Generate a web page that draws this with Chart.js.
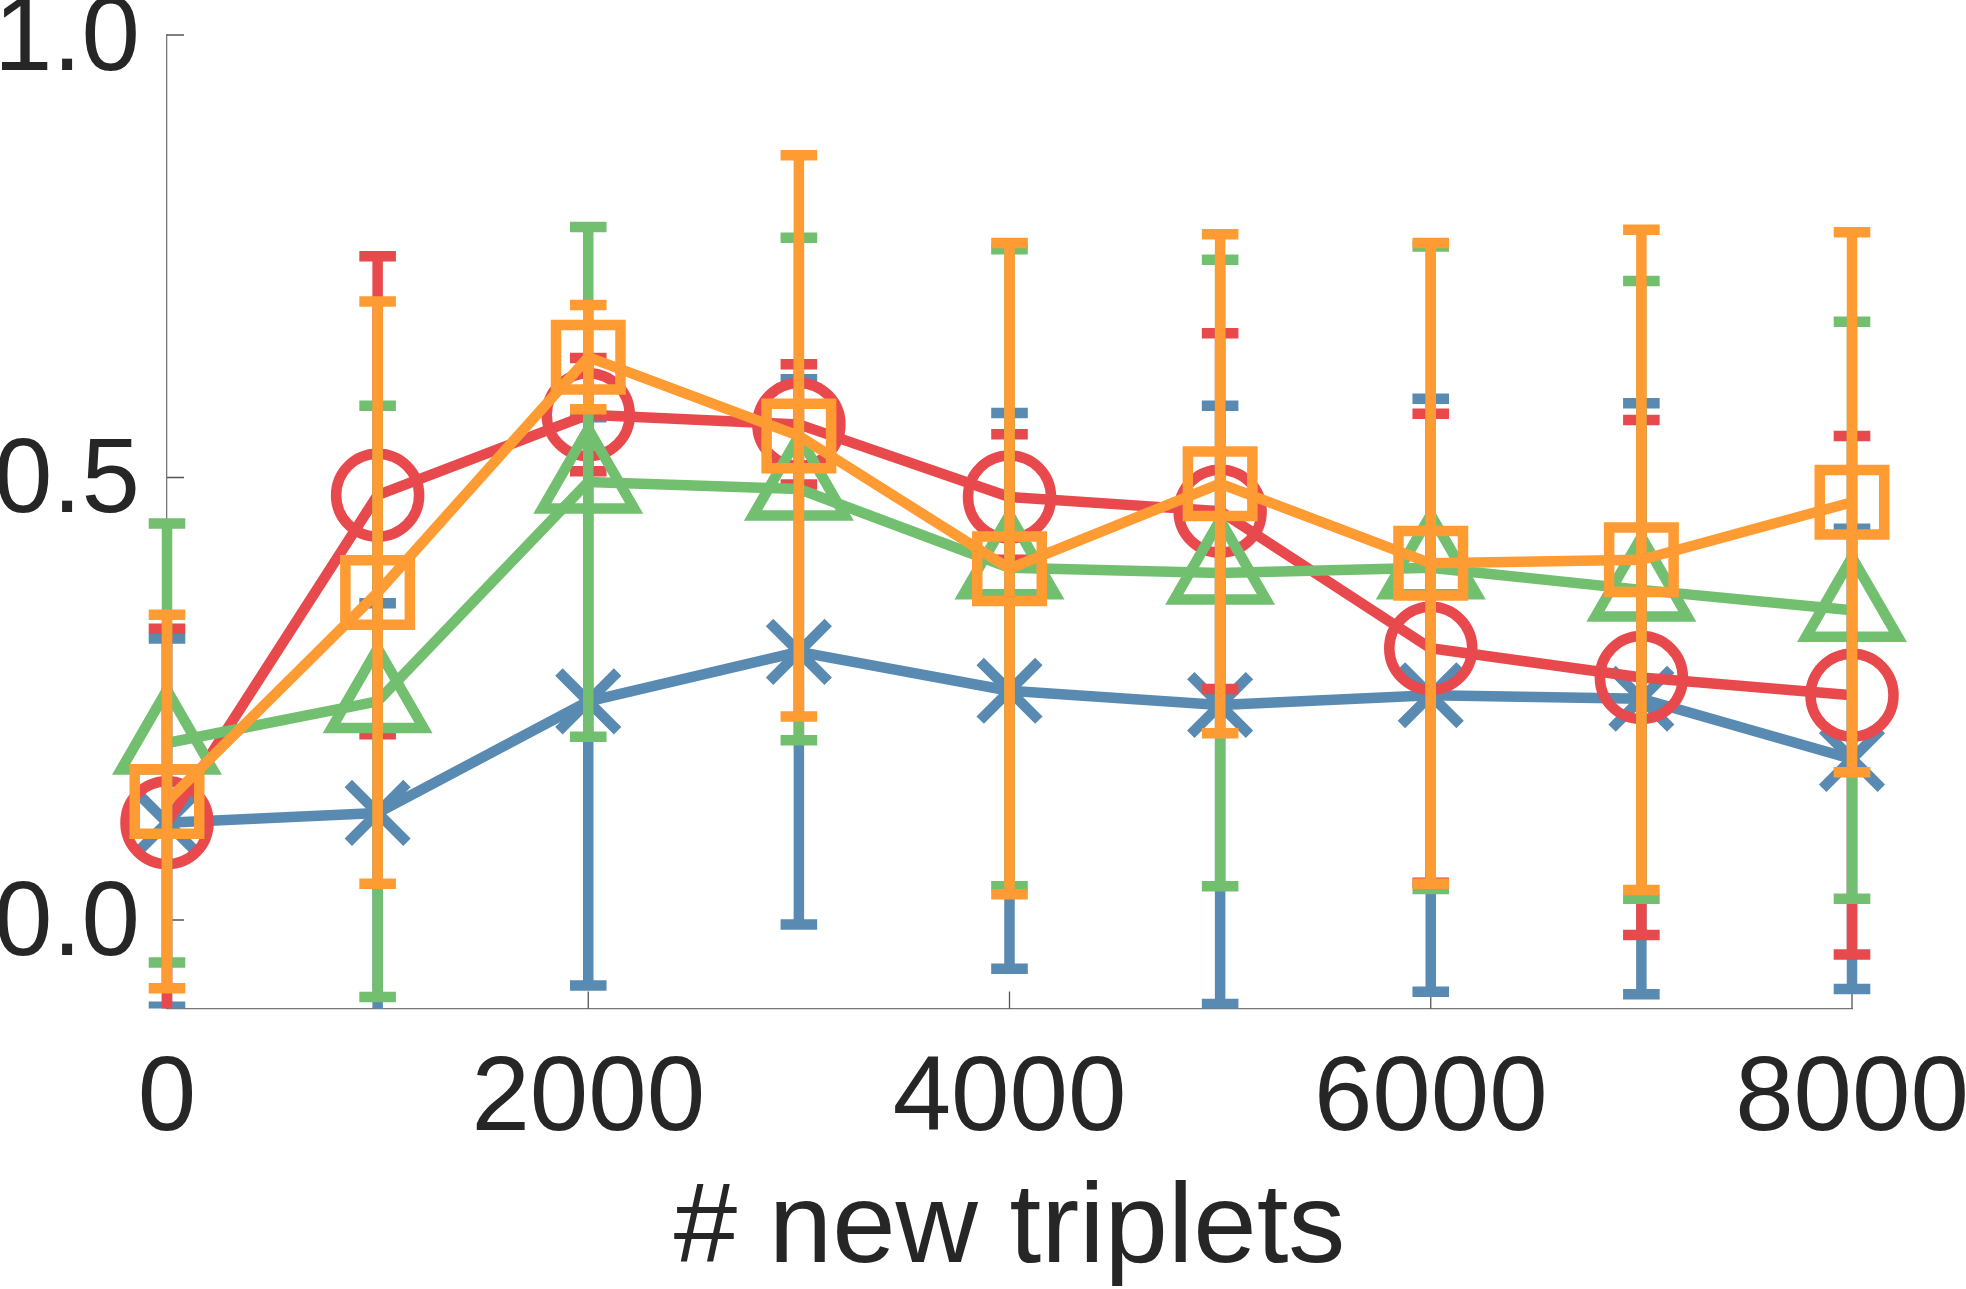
<!DOCTYPE html>
<html>
<head>
<meta charset="utf-8">
<title># new triplets</title>
<script src="https://cdn.jsdelivr.net/npm/chart.js@4.4.0/dist/chart.umd.min.js"></script>
<style>
  html, body { margin: 0; padding: 0; background: #fff; overflow: hidden; }
  #chart { position: absolute; left: 0; top: 0; }
</style>
</head>
<body>
<canvas id="chart" width="1966" height="1300"></canvas>
<script>
// x positions and axis ticks
const xValues = [0, 1000, 2000, 3000, 4000, 5000, 6000, 7000, 8000];
const xTicks = [0, 2000, 4000, 6000, 8000];
const yTicks = [0, 0.5, 1.0];

// mean +/- error per series
const blueMean   = [0.110, 0.121, 0.247, 0.303, 0.259, 0.243, 0.254, 0.250, 0.182];
const blueErr    = [0.208, 0.237, 0.321, 0.308, 0.314, 0.338, 0.335, 0.334, 0.260];
const redMean    = [0.110, 0.480, 0.571, 0.560, 0.478, 0.462, 0.307, 0.274, 0.254];
const redErr     = [0.219, 0.270, 0.064, 0.068, 0.071, 0.201, 0.265, 0.291, 0.293];
const greenMean  = [0.200, 0.247, 0.495, 0.487, 0.398, 0.392, 0.398, 0.373, 0.350];
const greenErr   = [0.248, 0.334, 0.288, 0.284, 0.360, 0.354, 0.363, 0.349, 0.326];
const orangeMean = [0.134, 0.370, 0.636, 0.547, 0.397, 0.493, 0.403, 0.407, 0.472];
const orangeErr  = [0.211, 0.329, 0.059, 0.317, 0.368, 0.282, 0.362, 0.373, 0.305];

const BLUE = '#588ab2';
const RED = '#e8494c';
const GREEN = '#72bf6f';
const ORANGE = '#ff9b33';
const TEXT = '#262626';
const LW = 10.5;

function series(mean, err, color, style, radius, order) {
    return {
        data: xValues.map((x, i) => ({ x: x, y: mean[i] })),
        errors: err,
        borderColor: color,
        borderWidth: LW,
        borderJoinStyle: 'round',
        pointStyle: style,
        pointRadius: radius,
        pointHoverRadius: radius,
        pointBorderWidth: LW,
        pointBorderColor: color,
        pointBackgroundColor: 'rgba(0,0,0,0)',
        tension: 0,
        clip: false,
        order: order
    };
}

// vertical error bars with caps, drawn just before each dataset's line
const errorBars = {
    id: 'errorBars',
    beforeDatasetDraw(chart, args) {
        const ds = chart.data.datasets[args.index];
        const meta = args.meta;
        const y = chart.scales.y;
        const area = chart.chartArea;
        const ctx = chart.ctx;
        const cap = 18.3;
        ctx.save();
        ctx.beginPath();
        ctx.rect(area.left - 80, area.top - 20, area.right - area.left + 160, area.bottom - area.top + 20);
        ctx.clip();
        ctx.strokeStyle = ds.borderColor;
        ctx.lineWidth = LW;
        ctx.lineCap = 'butt';
        ds.errors.forEach((e, i) => {
            const px = meta.data[i].x;
            const m = ds.data[i].y;
            const top = y.getPixelForValue(m + e);
            const bot = y.getPixelForValue(m - e);
            ctx.beginPath();
            ctx.moveTo(px, top);
            ctx.lineTo(px, bot);
            ctx.moveTo(px - cap, top);
            ctx.lineTo(px + cap, top);
            ctx.moveTo(px - cap, bot);
            ctx.lineTo(px + cap, bot);
            ctx.stroke();
        });
        ctx.restore();
    }
};

// small inward tick marks on the two axes
const inwardTicks = {
    id: 'inwardTicks',
    beforeDatasetsDraw(chart) {
        const ctx = chart.ctx;
        const area = chart.chartArea;
        const len = 17;
        ctx.save();
        ctx.strokeStyle = '#555';
        ctx.lineWidth = 1.3;
        ctx.beginPath();
        xTicks.forEach(v => {
            const px = chart.scales.x.getPixelForValue(v);
            ctx.moveTo(px, area.bottom);
            ctx.lineTo(px, area.bottom - len);
        });
        yTicks.forEach(v => {
            const py = chart.scales.y.getPixelForValue(v);
            ctx.moveTo(area.left, py);
            ctx.lineTo(area.left + len, py);
        });
        ctx.stroke();
        ctx.restore();
    }
};

Chart.defaults.font.family = "'Liberation Sans', Arial, Helvetica, sans-serif";
Chart.defaults.color = TEXT;

const ctx = document.getElementById('chart').getContext('2d');
const chart = new Chart(ctx, {
    type: 'line',
    data: {
        datasets: [
            series(blueMean, blueErr, BLUE, 'crossRot', 41.5, 3),
            series(redMean, redErr, RED, 'circle', 41.5, 2),
            series(greenMean, greenErr, GREEN, 'triangle', 53, 1),
            series(orangeMean, orangeErr, ORANGE, 'rect', 45.6, 0)
        ]
    },
    options: {
        responsive: false,
        animation: false,
        devicePixelRatio: 1,
        // big markers would otherwise add auto padding round the plot
        layout: { autoPadding: false, padding: { top: 35, right: 114, bottom: 0, left: 0 } },
        plugins: {
            legend: { display: false },
            tooltip: { enabled: false }
        },
        scales: {
            x: {
                type: 'linear',
                min: 0,
                max: 8000,
                grid: { display: false, drawTicks: false },
                border: { display: true, color: '#777', width: 1.3 },
                afterBuildTicks: (scale) => { scale.ticks = xTicks.map(v => ({ value: v })); },
                afterFit: (scale) => {
                    scale.height = 291.5;
                    scale.paddingLeft = 0;
                    scale.paddingRight = 0;
                },
                ticks: {
                    padding: 30,
                    maxRotation: 0,
                    color: TEXT,
                    font: { size: 105 },
                    callback: (v) => String(v)
                },
                title: {
                    display: true,
                    text: '# new triplets',
                    color: TEXT,
                    font: { size: 114 },
                    padding: { top: 0, bottom: 1 }
                }
            },
            y: {
                type: 'linear',
                min: -0.1,
                max: 1.0,
                grid: { display: false, drawTicks: false },
                border: { display: true, color: '#777', width: 1.3 },
                afterBuildTicks: (scale) => { scale.ticks = yTicks.map(v => ({ value: v })); },
                afterFit: (scale) => {
                    scale.width = 167;
                    scale.paddingTop = 0;
                    scale.paddingBottom = 0;
                },
                ticks: {
                    padding: 27,
                    labelOffset: 6,
                    color: TEXT,
                    font: { size: 105, lineHeight: 0.2 },
                    callback: (v) => v.toFixed(1)
                }
            }
        }
    },
    plugins: [errorBars, inwardTicks]
});
</script>
</body>
</html>
